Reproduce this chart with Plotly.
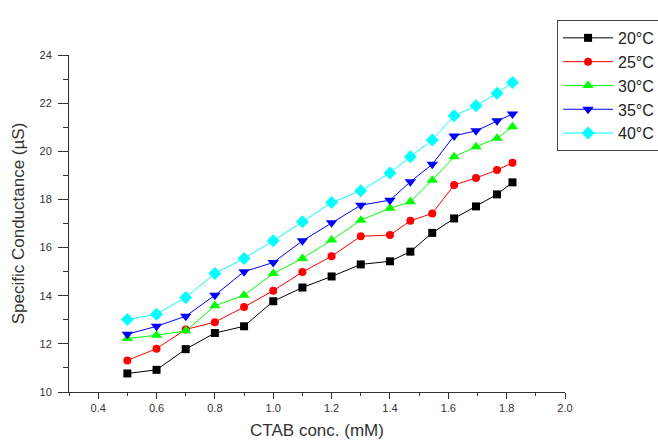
import plotly.graph_objects as go

conc = [0.5, 0.6, 0.7, 0.8, 0.9, 1.0, 1.1, 1.2, 1.3, 1.4, 1.47, 1.545, 1.62, 1.695, 1.767, 1.82]

t20 = [10.77, 10.92, 11.78, 12.45, 12.73, 13.77, 14.34, 14.8, 15.3, 15.43, 15.83, 16.61, 17.21, 17.71, 18.21, 18.71]
t25 = [11.31, 11.8, 12.6, 12.9, 13.53, 14.21, 14.98, 15.64, 16.47, 16.52, 17.11, 17.42, 18.6, 18.89, 19.22, 19.52]
t30 = [12.22, 12.36, 12.54, 13.58, 14.02, 14.92, 15.55, 16.31, 17.14, 17.63, 17.9, 18.8, 19.77, 20.19, 20.54, 21.02]
t35 = [12.4, 12.73, 13.15, 14.02, 15.0, 15.38, 16.28, 17.03, 17.76, 17.97, 18.73, 19.46, 20.64, 20.85, 21.27, 21.55]
t40 = [13.01, 13.23, 13.93, 14.92, 15.55, 16.28, 17.07, 17.87, 18.36, 19.1, 19.77, 20.47, 21.48, 21.89, 22.41, 22.86]

names = ["20°C", "25°C", "30°C", "35°C", "40°C"]
series = [t20, t25, t30, t35, t40]
colors = ["#000000", "#FF0000", "#00FF00", "#0000FF", "#00FFFF"]
symbols = ["square", "circle", "triangle-up", "triangle-down", "diamond"]
sizes = [8, 8, 10, 10, 10]

fig = go.Figure()
for n, s, c, sym, sz in zip(names, series, colors, symbols, sizes):
    fig.add_trace(go.Scatter(
        x=conc, y=s, name=n, mode="lines+markers",
        line=dict(color=c, width=1),
        marker=dict(symbol=sym, color=c, size=sz, line=dict(width=0)),
    ))

axis_font = dict(family="Liberation Sans, Arial, sans-serif", size=11, color="#333333")
title_font = dict(family="Liberation Sans, Arial, sans-serif", size=17, color="#333333")
fig.update_layout(
    width=658, height=443,
    margin=dict(l=69, r=93, t=55, b=51, autoexpand=False),
    plot_bgcolor="white", paper_bgcolor="white",
    font=dict(family="Liberation Sans, Arial, sans-serif", color="#333333"),
    showlegend=True,
    legend=dict(
        x=0.984, y=1.104, xanchor="left", yanchor="top",
        bgcolor="white", bordercolor="#444444", borderwidth=1,
        font=dict(size=16, color="#222222"),
        itemwidth=50,
    ),
    xaxis=dict(
        range=[0.3, 2.0], tick0=0.4, dtick=0.2, tickformat=".1f",
        showgrid=False, zeroline=False, automargin=False,
        showline=True, linecolor="#333333", linewidth=1,
        ticks="outside", ticklen=6, tickcolor="#333333",
        minor=dict(ticks="outside", dtick=0.1, tick0=0.3, ticklen=3, tickcolor="#333333"),
        tickfont=axis_font,
        title=dict(text="CTAB conc. (mM)", font=title_font, standoff=10),
    ),
    yaxis=dict(
        range=[10, 24], tick0=10, dtick=2,
        showgrid=False, zeroline=False, automargin=False,
        showline=True, linecolor="#333333", linewidth=1,
        ticks="outside", ticklen=10, tickcolor="#333333",
        minor=dict(ticks="outside", dtick=1, ticklen=5, tickcolor="#333333"),
        tickfont=axis_font,
        ticklabelstandoff=4,
        title=dict(text="Specific Conductance (µS)", font=title_font, standoff=10),
    ),
)

fig.write_html("out.html")
